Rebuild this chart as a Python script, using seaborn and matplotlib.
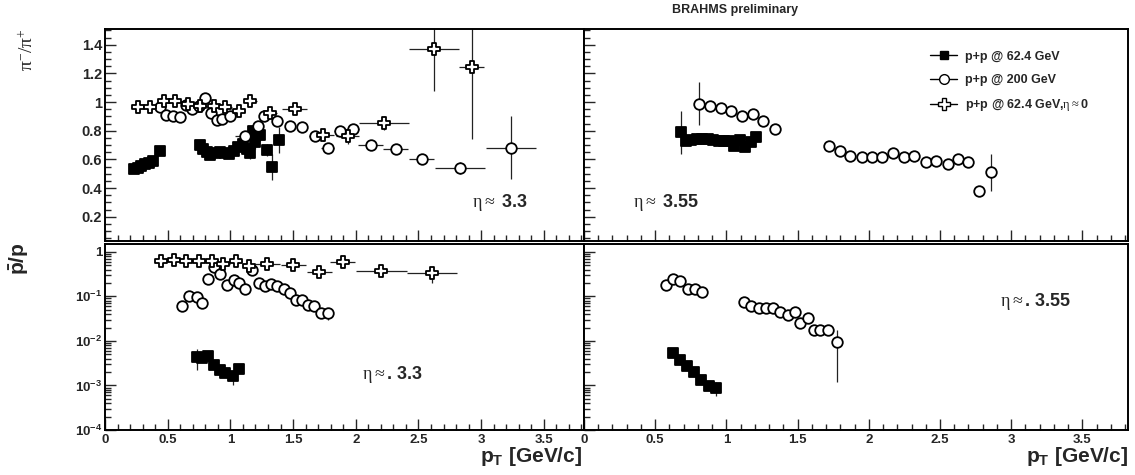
import numpy as np
import pandas as pd
import matplotlib
matplotlib.use('Agg')
import matplotlib.pyplot as plt
import seaborn as sns
from matplotlib.ticker import MultipleLocator, FixedLocator, FixedFormatter, LogLocator, NullFormatter
from matplotlib.lines import Line2D

sns.set_style('ticks')
plt.rcParams['font.family'] = ['Liberation Sans', 'DejaVu Sans']
plt.rcParams['mathtext.fontset'] = 'custom'
plt.rcParams['mathtext.rm'] = 'Liberation Serif:weight=normal'
plt.rcParams['mathtext.it'] = 'Liberation Serif:italic'
plt.rcParams['mathtext.bf'] = 'Liberation Sans:bold'

# ---- pi-/pi+ , eta ~ 3.3 (top left)
pi33_624_pt = [0.23, 0.26, 0.29, 0.32, 0.35, 0.38, 0.44, 0.76, 0.78, 0.81, 0.84, 0.88, 0.915, 0.955,
               0.99, 1.03, 1.06, 1.10, 1.135, 1.155, 1.18, 1.20, 1.24, 1.29, 1.335, 1.385]
pi33_624_r = [0.53, 0.54, 0.555, 0.565, 0.575, 0.59, 0.66, 0.70, 0.67, 0.65, 0.63, 0.645, 0.65, 0.645,
              0.64, 0.655, 0.685, 0.71, 0.675, 0.645, 0.80, 0.72, 0.77, 0.665, 0.545, 0.735]
pi33_624_err = [0.015, 0.015, 0.015, 0.015, 0.015, 0.015, 0.03, 0.035, 0.02, 0.02, 0.02, 0.02, 0.02, 0.02,
                0.02, 0.02, 0.02, 0.03, 0.03, 0.04, 0.04, 0.05, 0.04, 0.04, 0.09, 0.09]

pi33_200_pt = [0.44, 0.49, 0.54, 0.595, 0.645, 0.695, 0.75, 0.795, 0.845, 0.89, 0.935, 1.0, 1.12, 1.22,
               1.27, 1.375, 1.475, 1.57, 1.675, 1.775, 1.875, 1.975, 2.12, 2.32, 2.525, 2.83, 3.235]
pi33_200_r = [0.965, 0.91, 0.90, 0.895, 0.98, 0.955, 0.975, 1.025, 0.925, 0.875, 0.885, 0.90, 0.76, 0.83,
              0.905, 0.865, 0.835, 0.825, 0.76, 0.68, 0.795, 0.81, 0.70, 0.67, 0.60, 0.54, 0.68]
pi33_200_xerr = [0.02] * 12 + [0.08, 0.03, 0.03, 0.04, 0.04, 0.04, 0.05, 0.05, 0.05, 0.05, 0.1, 0.1, 0.1, 0.2, 0.2]
pi33_200_err = [0.02] * 19 + [0.03, 0.03, 0.03, 0.02, 0.02, 0.03, 0.04, 0.22]

pi33_eta0_pt = [0.26, 0.36, 0.47, 0.56, 0.66, 0.76, 0.87, 0.96, 1.07, 1.16, 1.32, 1.515, 1.735, 1.935,
                2.225, 2.625, 2.925]
pi33_eta0_r = [0.965, 0.965, 1.01, 1.01, 0.99, 0.975, 0.975, 0.965, 0.94, 1.01, 0.925, 0.95, 0.77, 0.76,
               0.855, 1.37, 1.245]
pi33_eta0_xerr = [0.05] * 11 + [0.1, 0.09, 0.09, 0.2, 0.2, 0.1]
pi33_eta0_err = [0.02] * 11 + [0.03, 0.04, 0.05, 0.05, 0.29, 0.5]

# ---- pi-/pi+ , eta ~ 3.55 (top right)
pi355_624_pt = [0.68, 0.72, 0.755, 0.795, 0.83, 0.87, 0.905, 0.945, 0.98, 1.02, 1.055, 1.095, 1.13, 1.17, 1.205]
pi355_624_r = [0.79, 0.73, 0.735, 0.74, 0.74, 0.74, 0.735, 0.73, 0.725, 0.73, 0.69, 0.735, 0.685, 0.72, 0.755]
pi355_624_err = [0.15] + [0.02] * 14

pi355_200_pt = [0.805, 0.885, 0.96, 1.035, 1.11, 1.19, 1.26, 1.345, 1.72, 1.795, 1.865, 1.95, 2.025, 2.095,
                2.17, 2.245, 2.32, 2.40, 2.47, 2.555, 2.63, 2.70, 2.775, 2.855]
pi355_200_r = [0.99, 0.975, 0.96, 0.94, 0.905, 0.92, 0.87, 0.81, 0.695, 0.66, 0.625, 0.615, 0.615, 0.62,
               0.645, 0.62, 0.625, 0.585, 0.59, 0.57, 0.60, 0.585, 0.38, 0.51]
pi355_200_err = [0.15] + [0.02] * 22 + [0.13]

# ---- pbar/p , eta ~ 3.3 (bottom left)
pb33_624_pt = [0.735, 0.775, 0.82, 0.87, 0.915, 0.96, 1.02, 1.07]
pb33_624_r = [0.0044, 0.0041, 0.0046, 0.0029, 0.0022, 0.0019, 0.0016, 0.0024]
pb33_624_err = [0.0022, 0.0008, 0.0008, 0.0004, 0.0003, 0.0003, 0.0006, 0.0005]

pb33_200_pt = [0.615, 0.67, 0.73, 0.775, 0.82, 0.87, 0.915, 0.97, 1.025, 1.07, 1.12, 1.175, 1.225, 1.275,
               1.325, 1.375, 1.43, 1.475, 1.52, 1.575, 1.62, 1.67, 1.72, 1.78]
pb33_200_r = [0.06, 0.10, 0.098, 0.07, 0.25, 0.45, 0.32, 0.18, 0.23, 0.195, 0.15, 0.40, 0.20, 0.17,
              0.19, 0.17, 0.145, 0.117, 0.083, 0.085, 0.064, 0.061, 0.043, 0.042]
pb33_200_err = [0.004, 0.006, 0.006, 0.005, 0.015, 0.03, 0.02, 0.01, 0.012, 0.01, 0.008, 0.02, 0.01, 0.009,
                0.01, 0.009, 0.008, 0.007, 0.005, 0.005, 0.004, 0.004, 0.004, 0.012]

pb33_eta0_pt = [0.445, 0.55, 0.65, 0.75, 0.85, 0.945, 1.045, 1.15, 1.295, 1.50, 1.71, 1.895, 2.205, 2.605]
pb33_eta0_r = [0.63, 0.65, 0.63, 0.63, 0.63, 0.53, 0.63, 0.48, 0.53, 0.50, 0.36, 0.60, 0.37, 0.33]
pb33_eta0_xerr = [0.05] * 8 + [0.1, 0.1, 0.1, 0.1, 0.2, 0.2]
pb33_eta0_err = [0.02] * 12 + [0.06, 0.13]

# ---- pbar/p , eta ~ 3.55 (bottom right)
pb355_624_pt = [0.625, 0.675, 0.725, 0.775, 0.825, 0.88, 0.925]
pb355_624_r = [0.0053, 0.0037, 0.0027, 0.0020, 0.0013, 0.00098, 0.00087]
pb355_624_err = [0.0003, 0.0002, 0.0002, 0.0001, 0.0001, 0.0001, 0.0003]

pb355_200_pt = [0.575, 0.625, 0.675, 0.73, 0.78, 0.83, 1.125, 1.175, 1.23, 1.28, 1.33, 1.38, 1.43, 1.48,
                1.52, 1.575, 1.615, 1.66, 1.715, 1.775]
pb355_200_r = [0.18, 0.25, 0.22, 0.15, 0.15, 0.123, 0.076, 0.062, 0.056, 0.056, 0.056, 0.045, 0.038, 0.044,
               0.025, 0.033, 0.018, 0.0178, 0.0172, 0.0096]
pb355_200_err = [0.01] * 6 + [0.004] * 10 + [0.002, 0.002, 0.002, 0.0084]

legend_labels = ['p+p @ 62.4 GeV', 'p+p @ 200 GeV', r'p+p @ 62.4 GeV,$\mathrm{\eta}\approx$0']
x_ticks = [0, 0.5, 1, 1.5, 2, 2.5, 3, 3.5]
x_ticklabels = ['0', '0.5', '1', '1.5', '2', '2.5', '3', '3.5']
lin_ticks = [0.2, 0.4, 0.6, 0.8, 1.0, 1.2, 1.4]
lin_ticklabels = ['0.2', '0.4', '0.6', '0.8', '1', '1.2', '1.4']
log_ticks = [1e-4, 1e-3, 1e-2, 1e-1, 1]
log_ticklabels = [r'$\mathbf{10^{-4}}$', r'$\mathbf{10^{-3}}$', r'$\mathbf{10^{-2}}$', r'$\mathbf{10^{-1}}$', '1']

styles = {
    '624': dict(marker='s', color='black', s=42),
    '200': dict(marker='o', color='white', s=58),
    'eta0': dict(marker='P', color='white', s=80),
}


def draw(ax, pt, r, err, kind, xerr=None):
    ax.errorbar(pt, r, yerr=err, xerr=xerr, fmt='none', ecolor='#222222', elinewidth=0.9, capsize=0, zorder=2)
    df = pd.DataFrame({'pt': pt, 'ratio': r})
    st = styles[kind]
    sns.scatterplot(data=df, x='pt', y='ratio', ax=ax, marker=st['marker'], color=st['color'],
                    s=st['s'], edgecolor='black', linewidth=1.3, legend=False, zorder=3)
    ax.set_xlabel('')
    ax.set_ylabel('')


fig = plt.figure(figsize=(11.35, 4.75), dpi=100)
ax_tl = fig.add_axes([0.0925, 0.4926, 0.4220, 0.4463])
ax_tr = fig.add_axes([0.5145, 0.4926, 0.4793, 0.4463])
ax_bl = fig.add_axes([0.0925, 0.0947, 0.4220, 0.3916])
ax_br = fig.add_axes([0.5145, 0.0947, 0.4793, 0.3916])

draw(ax_tl, pi33_624_pt, pi33_624_r, pi33_624_err, '624')
draw(ax_tl, pi33_200_pt, pi33_200_r, pi33_200_err, '200', pi33_200_xerr)
draw(ax_tl, pi33_eta0_pt, pi33_eta0_r, pi33_eta0_err, 'eta0', pi33_eta0_xerr)
draw(ax_tr, pi355_624_pt, pi355_624_r, pi355_624_err, '624')
draw(ax_tr, pi355_200_pt, pi355_200_r, pi355_200_err, '200')
draw(ax_bl, pb33_624_pt, pb33_624_r, pb33_624_err, '624')
draw(ax_bl, pb33_200_pt, pb33_200_r, pb33_200_err, '200')
draw(ax_bl, pb33_eta0_pt, pb33_eta0_r, pb33_eta0_err, 'eta0', pb33_eta0_xerr)
draw(ax_br, pb355_624_pt, pb355_624_r, pb355_624_err, '624')
draw(ax_br, pb355_200_pt, pb355_200_r, pb355_200_err, '200')

for ax in [ax_tl, ax_tr, ax_bl, ax_br]:
    ax.set_xlim(0, 3.82)
    ax.xaxis.set_major_locator(FixedLocator(x_ticks))
    ax.xaxis.set_minor_locator(MultipleLocator(0.1))
    ax.tick_params(which='both', direction='in', top=False, right=False, width=1, labelsize=9.5, pad=3)
    ax.tick_params(which='major', length=8)
    ax.tick_params(which='minor', length=4)
    for sp in ax.spines.values():
        sp.set_linewidth(1.4)
        sp.set_color('black')

for ax in [ax_tl, ax_tr]:
    ax.set_ylim(0.03, 1.51)
    ax.yaxis.set_major_locator(FixedLocator(lin_ticks))
    ax.yaxis.set_minor_locator(MultipleLocator(0.05))
    ax.xaxis.set_major_formatter(NullFormatter())

for ax in [ax_bl, ax_br]:
    ax.set_yscale('log')
    ax.set_ylim(1e-4, 1.5)
    ax.yaxis.set_major_locator(FixedLocator(log_ticks))
    ax.yaxis.set_minor_locator(LogLocator(base=10, subs=np.arange(2, 10), numticks=20))
    ax.yaxis.set_minor_formatter(NullFormatter())
    ax.xaxis.set_major_formatter(FixedFormatter(x_ticklabels))

ax_tl.yaxis.set_major_formatter(FixedFormatter(lin_ticklabels))
ax_bl.yaxis.set_major_formatter(FixedFormatter(log_ticklabels))
ax_tr.yaxis.set_major_formatter(NullFormatter())
ax_br.yaxis.set_major_formatter(NullFormatter())
for lab in ax_tl.get_yticklabels() + ax_bl.get_yticklabels() + ax_bl.get_xticklabels() + ax_br.get_xticklabels():
    lab.set_fontweight('bold')
ax_tl.tick_params(axis='y', pad=2, labelsize=10.5)
ax_bl.tick_params(axis='y', pad=2)

# eta labels: greek regular, number bold
eta_kw = dict(fontsize=13, fontweight='bold', va='center')
ax_tl.text(0.766, 0.18, r'$\mathrm{\eta \approx}$ 3.3', transform=ax_tl.transAxes, **eta_kw)
ax_tr.text(0.09, 0.18, r'$\mathrm{\eta \approx}$ 3.55', transform=ax_tr.transAxes, **eta_kw)
ax_bl.text(0.537, 0.30, r'$\mathrm{\eta \approx}$. 3.3', transform=ax_bl.transAxes, **eta_kw)
ax_br.text(0.765, 0.69, r'$\mathrm{\eta \approx}$. 3.55', transform=ax_br.transAxes, **eta_kw)

# legend
handles = [
    Line2D([], [], color='black', lw=1, marker='s', ms=6, mfc='black', mec='black'),
    Line2D([], [], color='black', lw=1, marker='o', ms=7, mfc='white', mec='black'),
    Line2D([], [], color='black', lw=1, marker='P', ms=8.5, mfc='white', mec='black'),
]
ax_tr.legend(handles, legend_labels, loc='upper left', bbox_to_anchor=(0.615, 0.95), frameon=False,
             prop={'weight': 'bold', 'size': 9}, handlelength=2.2, labelspacing=0.9, handletextpad=0.6)

# axis titles
fig.text(0.648, 0.978, 'BRAHMS preliminary', ha='center', va='center', fontsize=9, fontweight='bold')
fig.text(0.024, 0.895, r'$\mathrm{\pi^{-}/\pi^{+}}$', rotation=90, ha='center', va='center', fontsize=14)
fig.text(0.017, 0.455, r'$\mathbf{\bar{p}/p}$', rotation=90, ha='center', va='center', fontsize=15)
fig.text(0.513, 0.04, r'$\mathbf{p_{T}}$ [GeV/c]', ha='right', va='center', fontsize=15, fontweight='bold')
fig.text(0.994, 0.04, r'$\mathbf{p_{T}}$ [GeV/c]', ha='right', va='center', fontsize=15, fontweight='bold')

plt.savefig('out.png', dpi=100)
